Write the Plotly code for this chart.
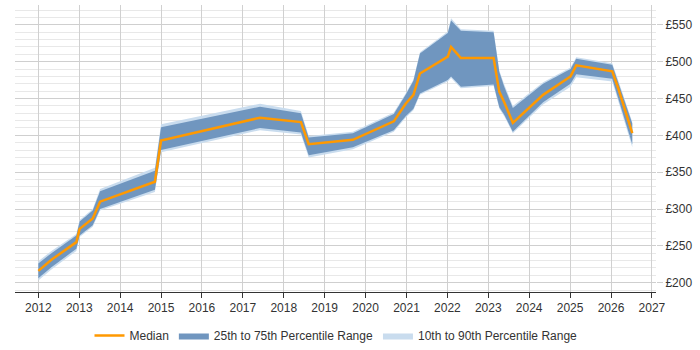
import plotly.graph_objects as go

years = [2012.0, 2012.32, 2012.93, 2013.01, 2013.33, 2013.51, 2014.85, 2015.0,
         2017.42, 2018.42, 2018.61, 2019.69, 2020.69, 2020.98, 2021.17, 2021.33,
         2022.01, 2022.09, 2022.33, 2023.13, 2023.27, 2023.39, 2023.6, 2024.34,
         2025.01, 2025.15, 2026.03, 2026.17, 2026.52]
median = [216, 231, 255, 273, 287, 310, 337, 393,
          424, 418, 388, 394, 419, 443, 455, 484,
          507, 520, 505, 505, 459, 445, 417, 455,
          480, 495, 487, 465, 403]
p25 = [206, 221, 246, 264, 278, 300, 326, 380,
       410, 404, 373, 384, 407, 426, 436, 457,
       475, 480, 466, 469, 438, 428, 405, 445,
       470, 483, 477, 452, 388]
p75 = [226, 240, 264, 283, 298, 324, 352, 411,
       439, 430, 397, 403, 429, 455, 474, 511,
       539, 556, 542, 540, 486, 466, 437, 470,
       490, 504, 496, 474, 416]
p10 = [203, 218, 243, 262, 276, 298, 323, 377,
       407, 401, 370, 381, 405, 424, 434, 455,
       473, 478, 464, 467, 436, 426, 403, 442,
       466, 479, 473, 448, 384]
p90 = [229, 243, 266, 285, 300, 327, 356, 415,
       443, 433, 399, 405, 431, 457, 476, 513,
       541, 559, 544, 542, 488, 469, 440, 472,
       492, 506, 498, 476, 418]

tick_years = list(range(2012, 2028))
y_ticks = [200, 250, 300, 350, 400, 450, 500, 550]
y_labels = ["£" + str(v) for v in y_ticks]

LIGHT = "#c9dcee"
MID = "#7096bf"
ORANGE = "#ff9900"

fig = go.Figure()
fig.add_trace(go.Scatter(x=years, y=p10, mode="lines", line=dict(width=0, color=LIGHT),
                         showlegend=False, hoverinfo="skip"))
fig.add_trace(go.Scatter(x=years, y=p90, mode="lines", line=dict(width=0, color=LIGHT),
                         fill="tonexty", fillcolor=LIGHT, name="10th to 90th Percentile Range",
                         legendrank=3))
fig.add_trace(go.Scatter(x=years, y=p25, mode="lines", line=dict(width=0, color=MID),
                         showlegend=False, hoverinfo="skip"))
fig.add_trace(go.Scatter(x=years, y=p75, mode="lines", line=dict(width=0, color=MID),
                         fill="tonexty", fillcolor=MID, name="25th to 75th Percentile Range",
                         legendrank=2))
fig.add_trace(go.Scatter(x=years, y=median, mode="lines", line=dict(width=2.5, color=ORANGE),
                         name="Median", legendrank=1))

fig.update_layout(
    width=700, height=350,
    margin=dict(l=15, r=44, t=5, b=58),
    paper_bgcolor="white", plot_bgcolor="white",
    font=dict(family="Liberation Sans, Arial, sans-serif", size=12, color="#333333"),
    showlegend=True,
    legend=dict(orientation="h", xref="container", x=0.48, xanchor="center",
                yref="container", y=0.0, yanchor="bottom",
                font=dict(size=12, color="#333333"), traceorder="normal",
                itemwidth=30),
)
fig.update_xaxes(
    range=[2011.43, 2027.1], tickmode="array", tickvals=tick_years,
    ticktext=[str(y) for y in tick_years],
    showgrid=True, gridcolor="#d0d0d0", gridwidth=1,
    showline=True, linecolor="#333333", linewidth=1,
    ticks="outside", ticklen=5, tickcolor="#333333",
    zeroline=False, tickfont=dict(size=12, color="#333333"),
)
fig.update_yaxes(
    range=[187.3, 577], side="right", tickmode="array", tickvals=y_ticks, ticktext=y_labels,
    showgrid=True, gridcolor="#cfcfcf", gridwidth=1,
    minor=dict(dtick=10, tick0=0, showgrid=True, gridcolor="#e8e8e8", gridwidth=1),
    showline=False, zeroline=False, ticks="outside", ticklen=6, tickcolor="#cfcfcf",
    tickfont=dict(size=12, color="#333333"),
)

fig.write_html("out.html")
